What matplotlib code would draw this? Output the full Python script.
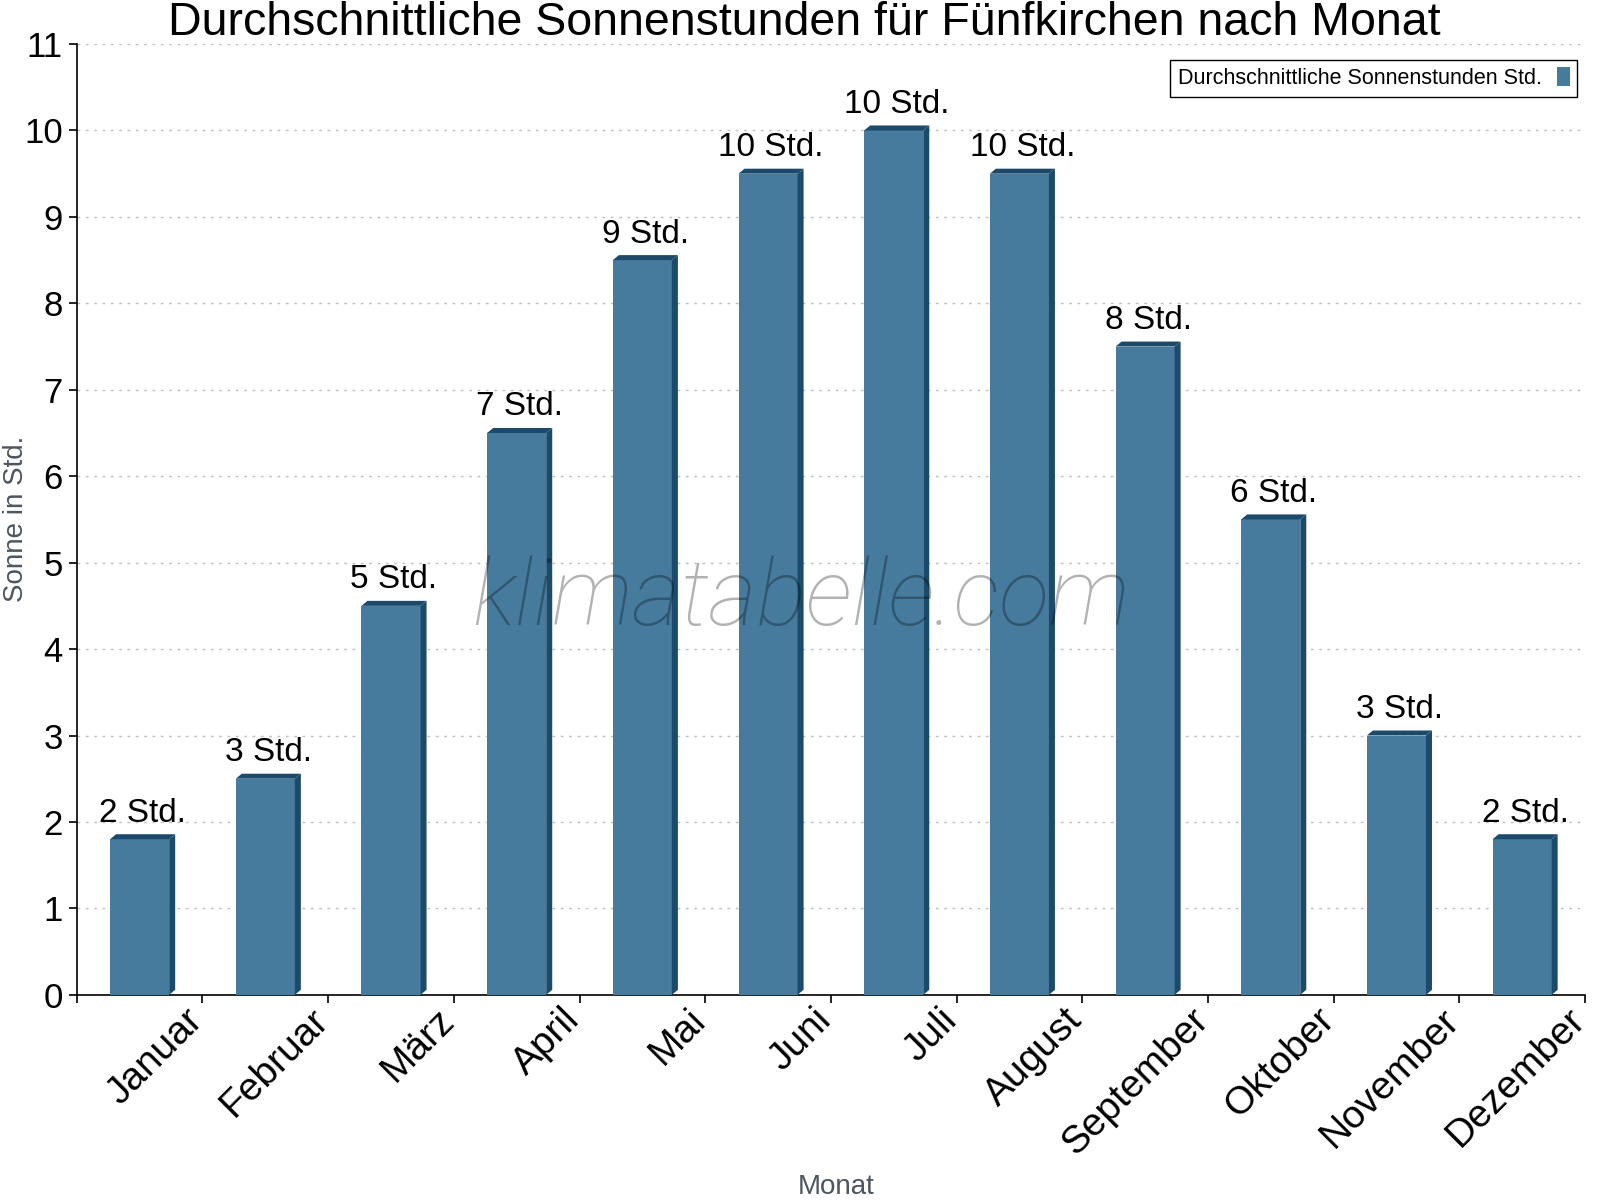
import matplotlib
matplotlib.use("Agg")
import matplotlib.pyplot as plt
from matplotlib.patches import Polygon
from matplotlib.transforms import ScaledTranslation
import numpy as np

months = ["Januar", "Februar", "März", "April", "Mai", "Juni", "Juli",
          "August", "September", "Oktober", "November", "Dezember"]
sun_hours = [1.8, 2.5, 4.5, 6.5, 8.5, 9.5, 10.0, 9.5, 7.5, 5.5, 3.0, 1.8]
bar_labels = ["2 Std.", "3 Std.", "5 Std.", "7 Std.", "9 Std.", "10 Std.",
              "10 Std.", "10 Std.", "8 Std.", "6 Std.", "3 Std.", "2 Std."]
y_ticks = list(range(0, 12))

plt.rcParams['font.family'] = ['Liberation Sans', 'DejaVu Sans']

front_col = "#467b9e"
dark_col = "#1b4a6b"

fig = plt.figure(figsize=(16, 12), dpi=100)
ax = fig.add_axes([0.048, 0.171, 0.9426, 0.7923])

n = len(months)
centers = np.arange(n) + 0.5
width = 0.47
ax.set_xlim(0, n)
ax.set_ylim(0, 11)

bars = ax.bar(centers, sun_hours, width=width, color=front_col, zorder=3)

# 3D depth in data units (derived from axes pixel size)
fig.canvas.draw()
bbox = ax.get_window_extent()
dx = 6.0 * n / bbox.width
dy = 5.0 * 11 / bbox.height
for rect in bars:
    x0 = rect.get_x()
    x1 = x0 + rect.get_width()
    h = rect.get_height()
    side = Polygon([(x1, 0), (x1, h), (x1 + dx, h + dy), (x1 + dx, dy)],
                   closed=True, facecolor=dark_col, edgecolor='none', zorder=3)
    top = Polygon([(x0, h), (x1, h), (x1 + dx, h + dy), (x0 + dx, h + dy)],
                  closed=True, facecolor=dark_col, edgecolor='none', zorder=3)
    ax.add_patch(side)
    ax.add_patch(top)

for c, h, lab in zip(centers, sun_hours, bar_labels):
    ax.annotate(lab, (c + dx / 2, h + dy), xytext=(0, 4), textcoords='offset points',
                ha='center', va='bottom', fontsize=24, color='black', zorder=5)

# grid
ax.set_yticks(y_ticks)
ax.yaxis.grid(True, linestyle=(0, (2, 4)), color='#c0c0c0', linewidth=1.0, zorder=0)
ax.set_axisbelow(True)

# x ticks at boundaries, labels at centers
ax.set_xticks(np.arange(0, n + 1))
ax.set_xticklabels([])
ax.set_xticks(centers, minor=True)
ax.set_xticklabels(months, minor=True, rotation=45, ha='right', va='top',
                   rotation_mode='anchor', fontsize=28)
ax.tick_params(axis='x', which='minor', length=0, pad=5)
ax.tick_params(axis='x', which='major', length=6, width=1.2, direction='out', color='black')
offset = ScaledTranslation(0.45, 0, fig.dpi_scale_trans)
for lab in ax.get_xticklabels(minor=True):
    lab.set_transform(lab.get_transform() + offset)

ax.tick_params(axis='y', labelsize=25, length=6, width=1.2, direction='out', pad=4)

for s in ['top', 'right']:
    ax.spines[s].set_visible(False)
for s in ['left', 'bottom']:
    ax.spines[s].set_color('black')
    ax.spines[s].set_linewidth(1.2)

fig.text(0.5225, 1 - 1194 / 1200, "Monat", fontsize=20, color='#4d5560',
         ha='center', va='baseline')
fig.text(16 / 1600, 1 - 519 / 1200, "Sonne in Std.", fontsize=20, color='#4d5560',
         ha='center', va='center', rotation=90)

fig.suptitle("Durchschnittliche Sonnenstunden für Fünfkirchen nach Monat",
             fontsize=33.5, x=0.503, y=0.999, va='top')

# watermark
ax.text(0.48, 0.415, "klimatabelle.com", transform=ax.transAxes, ha='center', va='center',
        fontsize=67, family=['Roboto', 'DejaVu Sans'], fontweight='light', style='italic',
        color='black', alpha=0.3, zorder=6)

leg = ax.legend([bars], ["Durchschnittliche Sonnenstunden Std."], loc='upper right',
                bbox_to_anchor=(1.002, 0.995), fontsize=15.5, markerfirst=False,
                frameon=True, fancybox=False, edgecolor='black', framealpha=1,
                handlelength=0.6, handleheight=1.0, borderpad=0.35, handletextpad=0.7)
leg.get_frame().set_linewidth(1.0)

fig.savefig("out.png", dpi=100)
